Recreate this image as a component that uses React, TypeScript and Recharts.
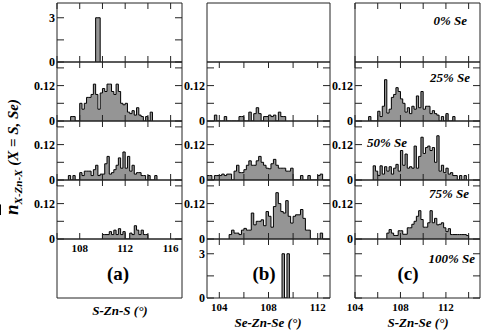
import { AreaChart, Area, XAxis, YAxis } from "recharts";

const BIN = 0.2;
const SERIF = "Liberation Serif, DejaVu Serif, serif";
const LINE = "#222";

// x ticks of the three columns (degrees)
const ticksA = [106, 108, 110, 112, 114, 116];
const ticksB = [104, 106, 108, 110, 112];
const ticksC = [104, 106, 108, 110, 112, 114];
const labeledX = [104, 108, 112, 116];

// y ticks
const fracTicks = [0, 0.06, 0.12, 0.18];
const countTicks = [0, 1.5, 3];
const labeledY = [0, 0.12, 3];

// (a) S-Zn-S : left edge of the first bin, then bin heights
const a0Start = 109.4;
const a0 = [3, 3];
const a25Start = 107.2;
const a25 = [0.015, 0.015, 0, 0, 0.06, 0.04, 0.06, 0.08, 0.08, 0.09, 0.125, 0.09, 0.04, 0.095, 0.11, 0.1, 0.125, 0.125, 0.1, 0.09, 0.125, 0.1, 0.06, 0.055, 0.06, 0.03, 0.025, 0.035, 0.02, 0.045, 0.02, 0.015, 0, 0.015, 0, 0.03];
const a50Start = 107.0;
const a50 = [0.015, 0, 0.015, 0, 0, 0.025, 0.015, 0.03, 0.03, 0.03, 0.015, 0.035, 0.05, 0.015, 0.02, 0.02, 0.055, 0.08, 0.02, 0.025, 0.035, 0.05, 0.075, 0.04, 0.095, 0.04, 0.08, 0.03, 0.05, 0.02, 0.025, 0.025, 0.015, 0.015, 0, 0.015, 0, 0, 0.015];
const a75Start = 110.0;
const a75 = [0.015, 0.015, 0.015, 0.025, 0.015, 0.03, 0.015, 0.035, 0.015, 0.025, 0, 0, 0.02, 0.015, 0.045, 0.03, 0.015, 0.03, 0.015, 0.015];

// (b) Se-Zn-Se
const b25Start = 103.6;
const b25 = [0.02, 0, 0, 0, 0.015, 0, 0, 0, 0, 0, 0.015, 0.015, 0, 0, 0.03, 0, 0.025, 0.045, 0.025, 0, 0.015, 0.015, 0.02, 0.015, 0.02, 0, 0.03, 0.015, 0.015];
const b50Start = 103.0;
const b50 = [0.015, 0.015, 0, 0.015, 0.015, 0.015, 0.02, 0.015, 0.02, 0.02, 0, 0.03, 0.05, 0.025, 0.025, 0.035, 0.05, 0.065, 0.05, 0.05, 0.065, 0.08, 0.06, 0.05, 0.04, 0.038, 0.055, 0.07, 0.05, 0.04, 0.04, 0.04, 0.03, 0.03, 0.04, 0, 0, 0, 0.015, 0, 0, 0.015, 0, 0, 0, 0.015, 0.02];
const b75Start = 104.8;
const b75 = [0.015, 0.03, 0.02, 0.02, 0.015, 0.03, 0.036, 0.03, 0.03, 0.088, 0.048, 0.06, 0.06, 0.065, 0.045, 0.093, 0.077, 0.04, 0.11, 0.157, 0.12, 0.093, 0.088, 0.13, 0.077, 0.054, 0.077, 0.082, 0.082, 0.1, 0.07, 0.03, 0.03, 0, 0, 0, 0, 0.02];
const b100Start = 109.1;
const b100 = [3, 0, 3];

// (c) S-Zn-Se
const c25Start = 105.2;
const c25 = [0.015, 0, 0, 0, 0.033, 0.015, 0.05, 0.14, 0.027, 0.04, 0.08, 0.09, 0.113, 0.1, 0.075, 0.06, 0.03, 0.045, 0.025, 0.05, 0.04, 0.085, 0.045, 0.1, 0.04, 0.05, 0.05, 0.025, 0.035, 0.025, 0.02, 0, 0.015, 0, 0.025, 0, 0, 0.015];
const c50Start = 105.6;
const c50 = [0.048, 0.03, 0.015, 0.048, 0.02, 0.045, 0.03, 0.045, 0.02, 0.04, 0.053, 0.03, 0.1, 0.05, 0.088, 0.04, 0.045, 0.04, 0.115, 0.04, 0.08, 0.145, 0.09, 0.11, 0.115, 0.1, 0.11, 0.06, 0.15, 0.03, 0.05, 0.025, 0.04, 0.02, 0.025, 0.015, 0.015, 0, 0.015, 0, 0.015];
const c75Start = 106.8;
const c75 = [0.02, 0.032, 0.02, 0.012, 0.012, 0.028, 0.028, 0.016, 0.016, 0.038, 0.038, 0.05, 0.06, 0.077, 0.096, 0.066, 0.04, 0.04, 0.055, 0.096, 0.055, 0.07, 0.048, 0.05, 0.055, 0.038, 0.025, 0.035, 0.015, 0.015, 0.015, 0.015, 0.015, 0.015, 0.015, 0.012];

// step outline: close the first and last bins down to zero
const steps = (start: number, bins: number[]) => [
  { x: start, v: 0 },
  ...bins.map((v, i) => ({ x: +(start + i * BIN).toFixed(2), v })),
  { x: +(start + bins.length * BIN).toFixed(2), v: 0 },
];

const PAD_L = 30;
const PAD_R = 2;
const PAD_T = 2;
const PAD_B = 24;

const numText = {
  fontFamily: SERIF,
  fontWeight: 700,
  fill: "#000",
};

const xTick = (side: "top" | "bottom", labelOffset?: number) => (p: any) => {
  const dir = side === "bottom" ? -1 : 1;
  const v = p.payload.value;
  return (
    <g>
      <line x1={p.x} y1={p.y} x2={p.x} y2={p.y + dir * 6} stroke={LINE} />
      {labelOffset !== undefined && labeledX.includes(v) && (
        <text x={p.x} y={p.y + labelOffset} textAnchor="middle" fontSize={11} {...numText}>
          {v}
        </text>
      )}
    </g>
  );
};

const yTick = (side: "left" | "right", labels: boolean) => (p: any) => {
  const dir = side === "left" ? 1 : -1;
  const v = p.payload.value;
  return (
    <g>
      <line x1={p.x} y1={p.y} x2={p.x + dir * 7} y2={p.y} stroke={LINE} />
      {labels && labeledY.includes(v) && (
        <text x={p.x - 2} y={p.y + 4} textAnchor="end" fontSize={12} {...numText}>
          {v}
        </text>
      )}
    </g>
  );
};

type PanelProps = {
  left: number;
  top: number;
  w: number;
  h: number;
  xDomain: [number, number];
  xTicks?: number[];
  yDomain?: [number, number];
  yTicks?: number[];
  start?: number;
  bins?: number[];
  yLabels?: boolean;
  xLabelOffset?: number;
};

function Panel({
  left,
  top,
  w,
  h,
  xDomain,
  xTicks,
  yDomain = [0, 0.2],
  yTicks,
  start = 0,
  bins = [],
  yLabels = false,
  xLabelOffset,
}: PanelProps) {
  const data = bins.length ? steps(start, bins) : [];
  const axisLine = { stroke: LINE, strokeWidth: 1 };
  return (
    <div style={{ position: "absolute", left: left - PAD_L, top: top - PAD_T }}>
      <AreaChart
        width={PAD_L + w + PAD_R}
        height={PAD_T + h + PAD_B}
        data={data}
        margin={{ top: 0, right: 0, bottom: 0, left: 0 }}
      >
        <XAxis
          xAxisId="b"
          type="number"
          dataKey="x"
          domain={xDomain}
          ticks={xTicks}
          allowDataOverflow
          interval={0}
          height={PAD_B}
          tickSize={0}
          tickMargin={0}
          tickLine={false}
          axisLine={axisLine}
          tick={xTicks ? xTick("bottom", xLabelOffset) : false}
        />
        <XAxis
          xAxisId="t"
          orientation="top"
          type="number"
          dataKey="x"
          domain={xDomain}
          ticks={xTicks}
          allowDataOverflow
          interval={0}
          height={PAD_T}
          tickSize={0}
          tickMargin={0}
          tickLine={false}
          axisLine={axisLine}
          tick={xTicks ? xTick("top") : false}
        />
        <YAxis
          yAxisId="l"
          type="number"
          domain={yDomain}
          ticks={yTicks}
          allowDataOverflow
          interval={0}
          width={PAD_L}
          tickSize={0}
          tickMargin={0}
          tickLine={false}
          axisLine={axisLine}
          tick={yTicks ? yTick("left", yLabels) : false}
        />
        <YAxis
          yAxisId="r"
          orientation="right"
          type="number"
          domain={yDomain}
          ticks={yTicks}
          allowDataOverflow
          interval={0}
          width={PAD_R}
          tickSize={0}
          tickMargin={0}
          tickLine={false}
          axisLine={axisLine}
          tick={yTicks ? yTick("right", false) : false}
        />
        {bins.length > 0 && (
          <Area
            xAxisId="b"
            yAxisId="l"
            type="stepAfter"
            dataKey="v"
            stroke="#000"
            strokeWidth={1}
            fill="#959595"
            fillOpacity={1}
            dot={false}
            activeDot={false}
            isAnimationActive={false}
          />
        )}
      </AreaChart>
    </div>
  );
}

const COL_A = { left: 57, w: 125, xDomain: [106, 117] as [number, number], xTicks: ticksA };
const COL_B = { left: 207, w: 123, xDomain: [103, 113] as [number, number], xTicks: ticksB };
const COL_C = { left: 355, w: 125, xDomain: [104, 115] as [number, number], xTicks: ticksC };
const ROWS = [3, 62, 121, 180, 239];
const H = 59;

const tagStyle = {
  position: "absolute" as const,
  fontFamily: SERIF,
  fontWeight: 700,
  fontStyle: "italic",
  fontSize: 13,
  lineHeight: 1,
  whiteSpace: "nowrap" as const,
};

const letterStyle = {
  position: "absolute" as const,
  fontFamily: SERIF,
  fontWeight: 700,
  fontSize: 19,
  lineHeight: 1,
  transform: "translateX(-50%)",
};

const titleStyle = {
  position: "absolute" as const,
  fontFamily: SERIF,
  fontWeight: 700,
  fontStyle: "italic",
  fontSize: 13,
  lineHeight: 1,
  whiteSpace: "nowrap" as const,
  transform: "translateX(-50%)",
};

export default function App() {
  return (
    <div
      style={{
        position: "absolute",
        left: 0,
        top: 0,
        width: 482,
        height: 330,
        background: "#fff",
        overflow: "hidden",
      }}
    >
      {/* column (a) */}
      <Panel {...COL_A} top={ROWS[0]} h={H} yDomain={[0, 4]} yTicks={countTicks} yLabels start={a0Start} bins={a0} />
      <Panel {...COL_A} top={ROWS[1]} h={H} yTicks={fracTicks} yLabels start={a25Start} bins={a25} />
      <Panel {...COL_A} top={ROWS[2]} h={H} yTicks={fracTicks} yLabels start={a50Start} bins={a50} />
      <Panel {...COL_A} top={ROWS[3]} h={H} yTicks={fracTicks} yLabels start={a75Start} bins={a75} xLabelOffset={13} />
      <Panel {...COL_A} xTicks={undefined} top={ROWS[4]} h={H} />

      {/* column (b) */}
      <Panel {...COL_B} xTicks={undefined} top={ROWS[0]} h={H} />
      <Panel {...COL_B} top={ROWS[1]} h={H} yTicks={fracTicks} yLabels start={b25Start} bins={b25} />
      <Panel {...COL_B} top={ROWS[2]} h={H} yTicks={fracTicks} yLabels start={b50Start} bins={b50} />
      <Panel {...COL_B} top={ROWS[3]} h={H} yTicks={fracTicks} yLabels start={b75Start} bins={b75} />
      <Panel {...COL_B} top={ROWS[4]} h={H} yDomain={[0, 4]} yTicks={countTicks} yLabels start={b100Start} bins={b100} xLabelOffset={13} />

      {/* column (c) */}
      <Panel {...COL_C} top={ROWS[0]} h={H} />
      <Panel {...COL_C} top={ROWS[1]} h={H} yTicks={fracTicks} yLabels start={c25Start} bins={c25} />
      <Panel {...COL_C} top={ROWS[2]} h={H} yTicks={fracTicks} yLabels start={c50Start} bins={c50} />
      <Panel {...COL_C} top={ROWS[3]} h={H} yTicks={fracTicks} yLabels start={c75Start} bins={c75} />
      <Panel {...COL_C} top={ROWS[4]} h={H} yDomain={[0, 4]} yTicks={countTicks} xLabelOffset={13} />

      {/* composition tags */}
      <div style={{ ...tagStyle, right: 15, top: 14 }}>0% Se</div>
      <div style={{ ...tagStyle, right: 12, top: 71 }}>25% Se</div>
      <div style={{ ...tagStyle, left: 367, top: 136 }}>50% Se</div>
      <div style={{ ...tagStyle, right: 13, top: 187 }}>75% Se</div>
      <div style={{ ...tagStyle, right: 7, top: 252 }}>100% Se</div>

      <div style={{ ...letterStyle, left: 118, top: 264 }}>(a)</div>
      <div style={{ ...letterStyle, left: 264, top: 264 }}>(b)</div>
      <div style={{ ...letterStyle, left: 408, top: 264 }}>(c)</div>

      <div style={{ ...titleStyle, left: 120, top: 304 }}>S-Zn-S (°)</div>
      <div style={{ ...titleStyle, left: 268, top: 316 }}>Se-Zn-Se (°)</div>
      <div style={{ ...titleStyle, left: 418, top: 316 }}>S-Zn-Se (°)</div>

      <div
        style={{
          position: "absolute",
          left: 13,
          top: 157,
          transform: "translate(-50%, -50%) rotate(-90deg)",
          whiteSpace: "nowrap",
          fontFamily: SERIF,
          fontWeight: 700,
          fontStyle: "italic",
          fontSize: 15,
          lineHeight: 1,
        }}
      >
        <span style={{ textDecoration: "overline", fontSize: 19 }}>n</span>
        <sub style={{ fontSize: 11 }}>X-Zn-X</sub> (X = S, Se)
      </div>
    </div>
  );
}
